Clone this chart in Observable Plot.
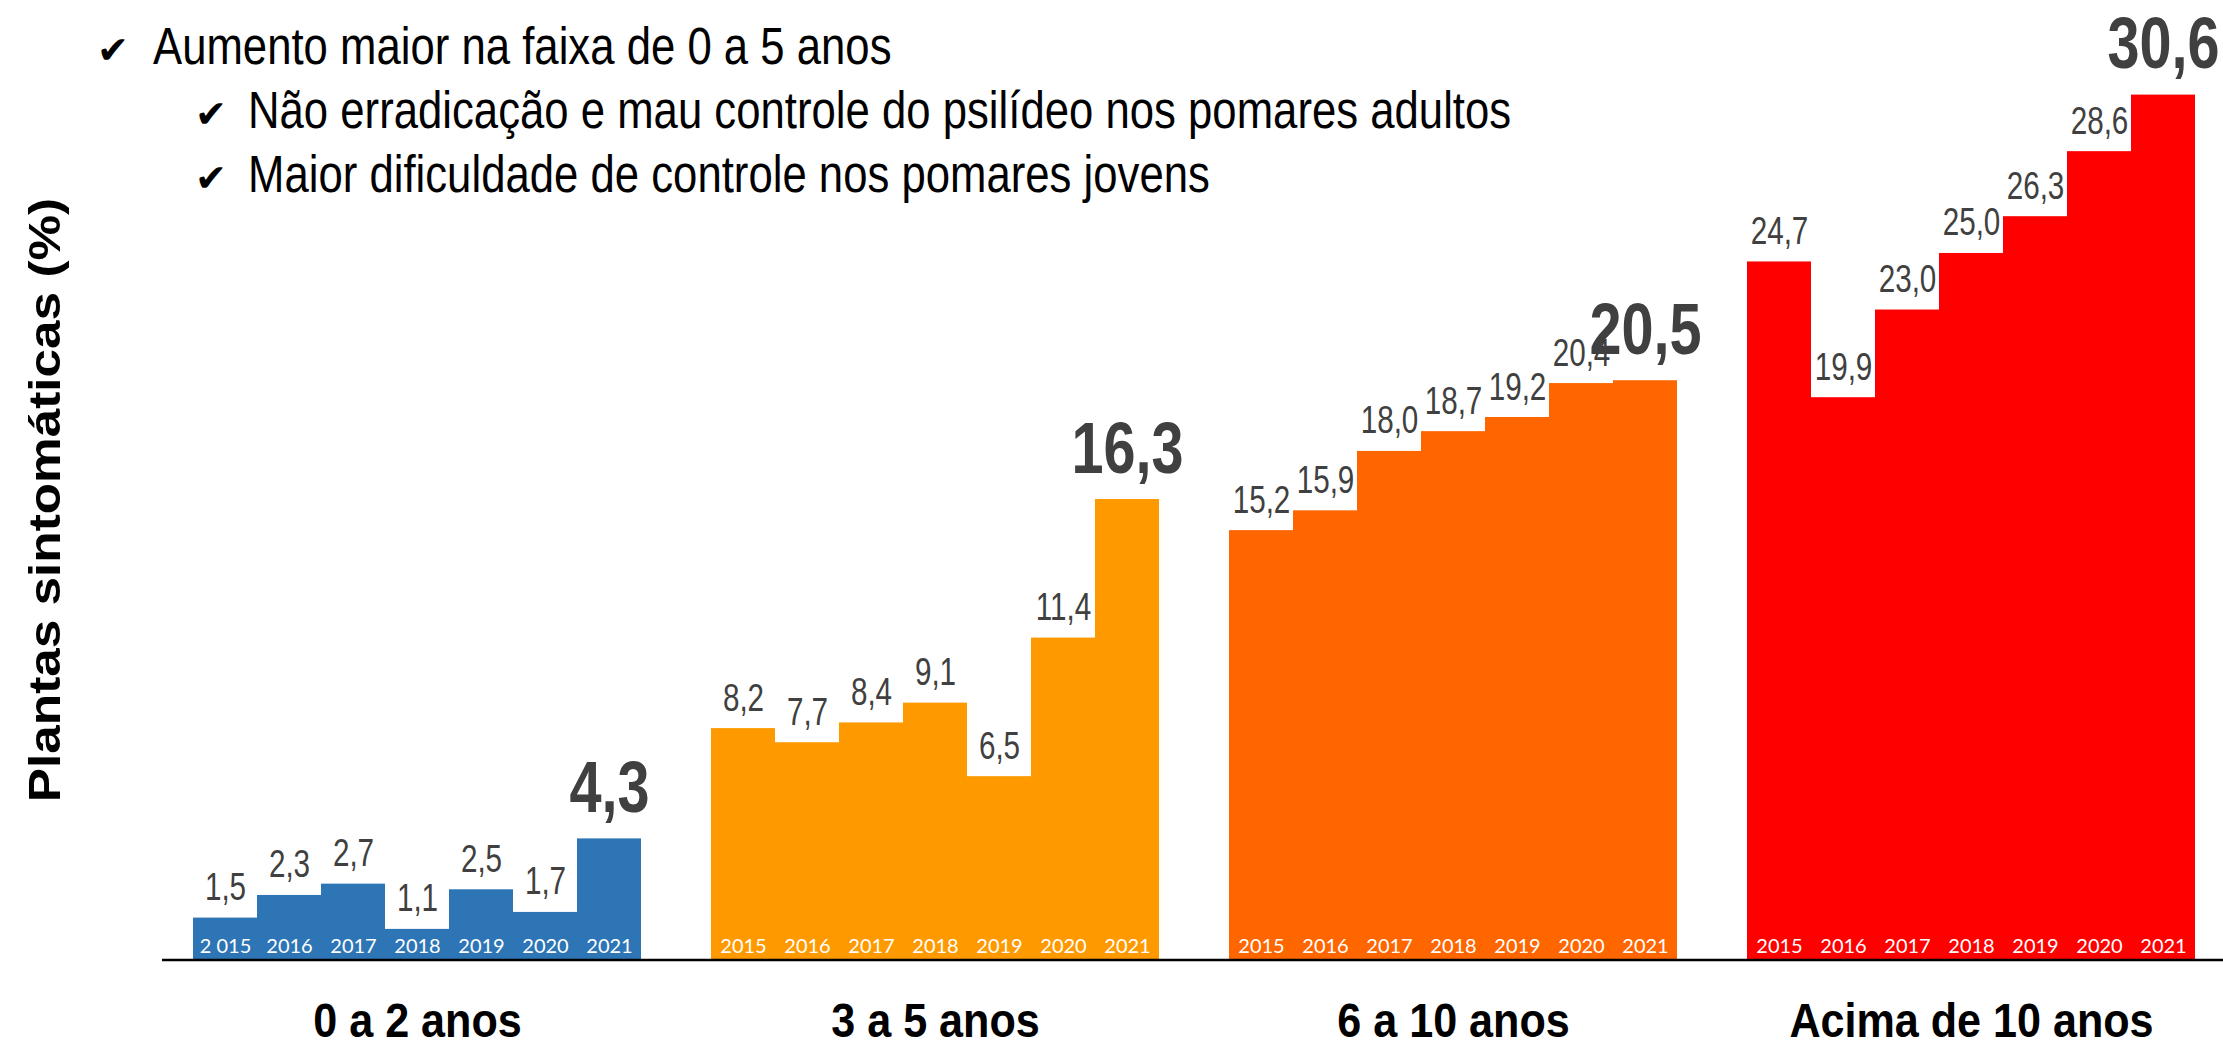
<!DOCTYPE html>
<html>
<head>
<meta charset="utf-8">
<script src="https://cdn.jsdelivr.net/npm/d3@7"></script>
<script src="https://cdn.jsdelivr.net/npm/@observablehq/plot@0.6"></script>
<style>
  html, body { margin: 0; padding: 0; background: #fff; }
  #wrap { position: relative; width: 2223px; height: 1050px; overflow: hidden; }
  #wrap svg { position: absolute; left: 0; top: 0; }
</style>
</head>
<body>
<div id="wrap"></div>
<script>
// ---- data ----
const groups = ["0 a 2 anos", "3 a 5 anos", "6 a 10 anos", "Acima de 10 anos"];
const years = ["2015", "2016", "2017", "2018", "2019", "2020", "2021"];
const values0a2 = [1.5, 2.3, 2.7, 1.1, 2.5, 1.7, 4.3];
const values3a5 = [8.2, 7.7, 8.4, 9.1, 6.5, 11.4, 16.3];
const values6a10 = [15.2, 15.9, 18.0, 18.7, 19.2, 20.4, 20.5];
const valuesAcima10 = [24.7, 19.9, 23.0, 25.0, 26.3, 28.6, 30.6];
const yearLabels0a2 = ["2 015", "2016", "2017", "2018", "2019", "2020", "2021"];
const yearLabelsOther = ["2015", "2016", "2017", "2018", "2019", "2020", "2021"];
const groupColors = ["#2E75B6", "#FF9900", "#FF6600", "#FF0000"];
const bullets = [
  "Aumento maior na faixa de 0 a 5 anos",
  "Não erradicação e mau controle do psilídeo nos pomares adultos",
  "Maior dificuldade de controle nos pomares jovens"
];
const yTitle = "Plantas sintomáticas (%)";

// ---- table ----
const series = [values0a2, values3a5, values6a10, valuesAcima10];
const labelSets = [yearLabels0a2, yearLabelsOther, yearLabelsOther, yearLabelsOther];
const table = groups.flatMap((g, gi) => years.map((yr, i) => ({
  group: g, year: yr, value: series[gi][i], yearLabel: labelSets[gi][i]
})));
const lastYear = years[years.length - 1];
const fmt = v => d3.format(".1f")(v).replace(".", ",");

const sans = "'Liberation Sans', Arial, sans-serif";

const plot = Plot.plot({
  width: 2223,
  height: 1050,
  marginTop: 55,
  marginBottom: 90,
  marginLeft: 190,
  marginRight: 25,
  fx: { domain: groups, paddingInner: 0.1236, paddingOuter: 0, label: null },
  x: { domain: years, padding: 0, axis: null },
  y: { domain: [0, 32], axis: null },
  color: { domain: groups, range: groupColors },
  marks: [
    Plot.barY(table, { fx: "group", x: "year", y: "value", fill: "group", inset: 0 }),
    Plot.text(table.filter(d => d.year !== lastYear), {
      fx: "group", x: "year", y: "value", text: d => fmt(d.value),
      lineAnchor: "bottom", dy: -18, fontSize: 38, fill: "#404040", fontFamily: sans
    }),
    Plot.text(table.filter(d => d.year === lastYear), {
      fx: "group", x: "year", y: "value", text: d => fmt(d.value),
      lineAnchor: "bottom", dy: -27, fontSize: 72, fontWeight: "bold", fill: "#404040", fontFamily: sans
    }),
    Plot.text(table, {
      fx: "group", x: "year", y: d => 0, text: "yearLabel",
      lineAnchor: "bottom", dy: -8, fontSize: 20, fill: "white", fontFamily: "Lato, 'Open Sans', sans-serif"
    }),
    Plot.axisFx({
      anchor: "bottom", tickSize: 0, tickPadding: 42, fontSize: 49, fontWeight: "bold",
      fill: "black", fontFamily: sans, label: null
    })
  ]
});

const wrap = document.getElementById("wrap");
wrap.appendChild(plot);

// horizontal squeeze of the chart's texts (the original uses a narrow face)
const squeeze = { "38": 0.78, "72": 0.8, "49": 0.88 };
d3.select(plot).selectAll("g[font-size]").each(function () {
  const s = squeeze[this.getAttribute("font-size")];
  if (!s) return;
  d3.select(this).selectAll("text").each(function () {
    const t = this.getAttribute("transform") || "";
    const x = this.getAttribute("x");
    if (x != null && !isNaN(+x)) {
      this.removeAttribute("x");
      this.setAttribute("transform", `${t} translate(${+x},0) scale(${s},1)`);
    } else {
      this.setAttribute("transform", `${t} scale(${s},1)`);
    }
  });
});

// continuous baseline drawn with the chart's own scales
const yS = plot.scale("y");
const fxS = plot.scale("fx");
const y0 = yS.apply(0);
d3.select(plot).append("line")
  .attr("x1", fxS.range[0] - 28).attr("x2", 2223)
  .attr("y1", y0).attr("y2", y0)
  .attr("stroke", "black").attr("stroke-width", 2.5);

// overlay: bullet notes and y title
const ov = d3.select(wrap).append("svg")
  .attr("width", 2223).attr("height", 1050)
  .style("pointer-events", "none");

const bulletPos = [
  { cx: 97, tx: 153, by: 64 },
  { cx: 195, tx: 248, by: 128 },
  { cx: 195, tx: 248, by: 192 }
];
bullets.forEach((t, i) => {
  const p = bulletPos[i];
  ov.append("text").attr("x", p.cx).attr("y", p.by - 1)
    .attr("font-family", "'DejaVu Sans', sans-serif").attr("font-size", 38)
    .attr("fill", "black").text("✔");
  ov.append("text")
    .attr("transform", `translate(${p.tx},${p.by}) scale(0.857,1)`)
    .attr("font-family", sans).attr("font-size", 51)
    .attr("fill", "black").text(t);
});

ov.append("text")
  .attr("transform", "translate(60,500) rotate(-90) scale(1.14,1)")
  .attr("text-anchor", "middle")
  .attr("font-family", sans).attr("font-size", 45).attr("font-weight", "bold")
  .attr("fill", "black").text(yTitle);
</script>
</body>
</html>
